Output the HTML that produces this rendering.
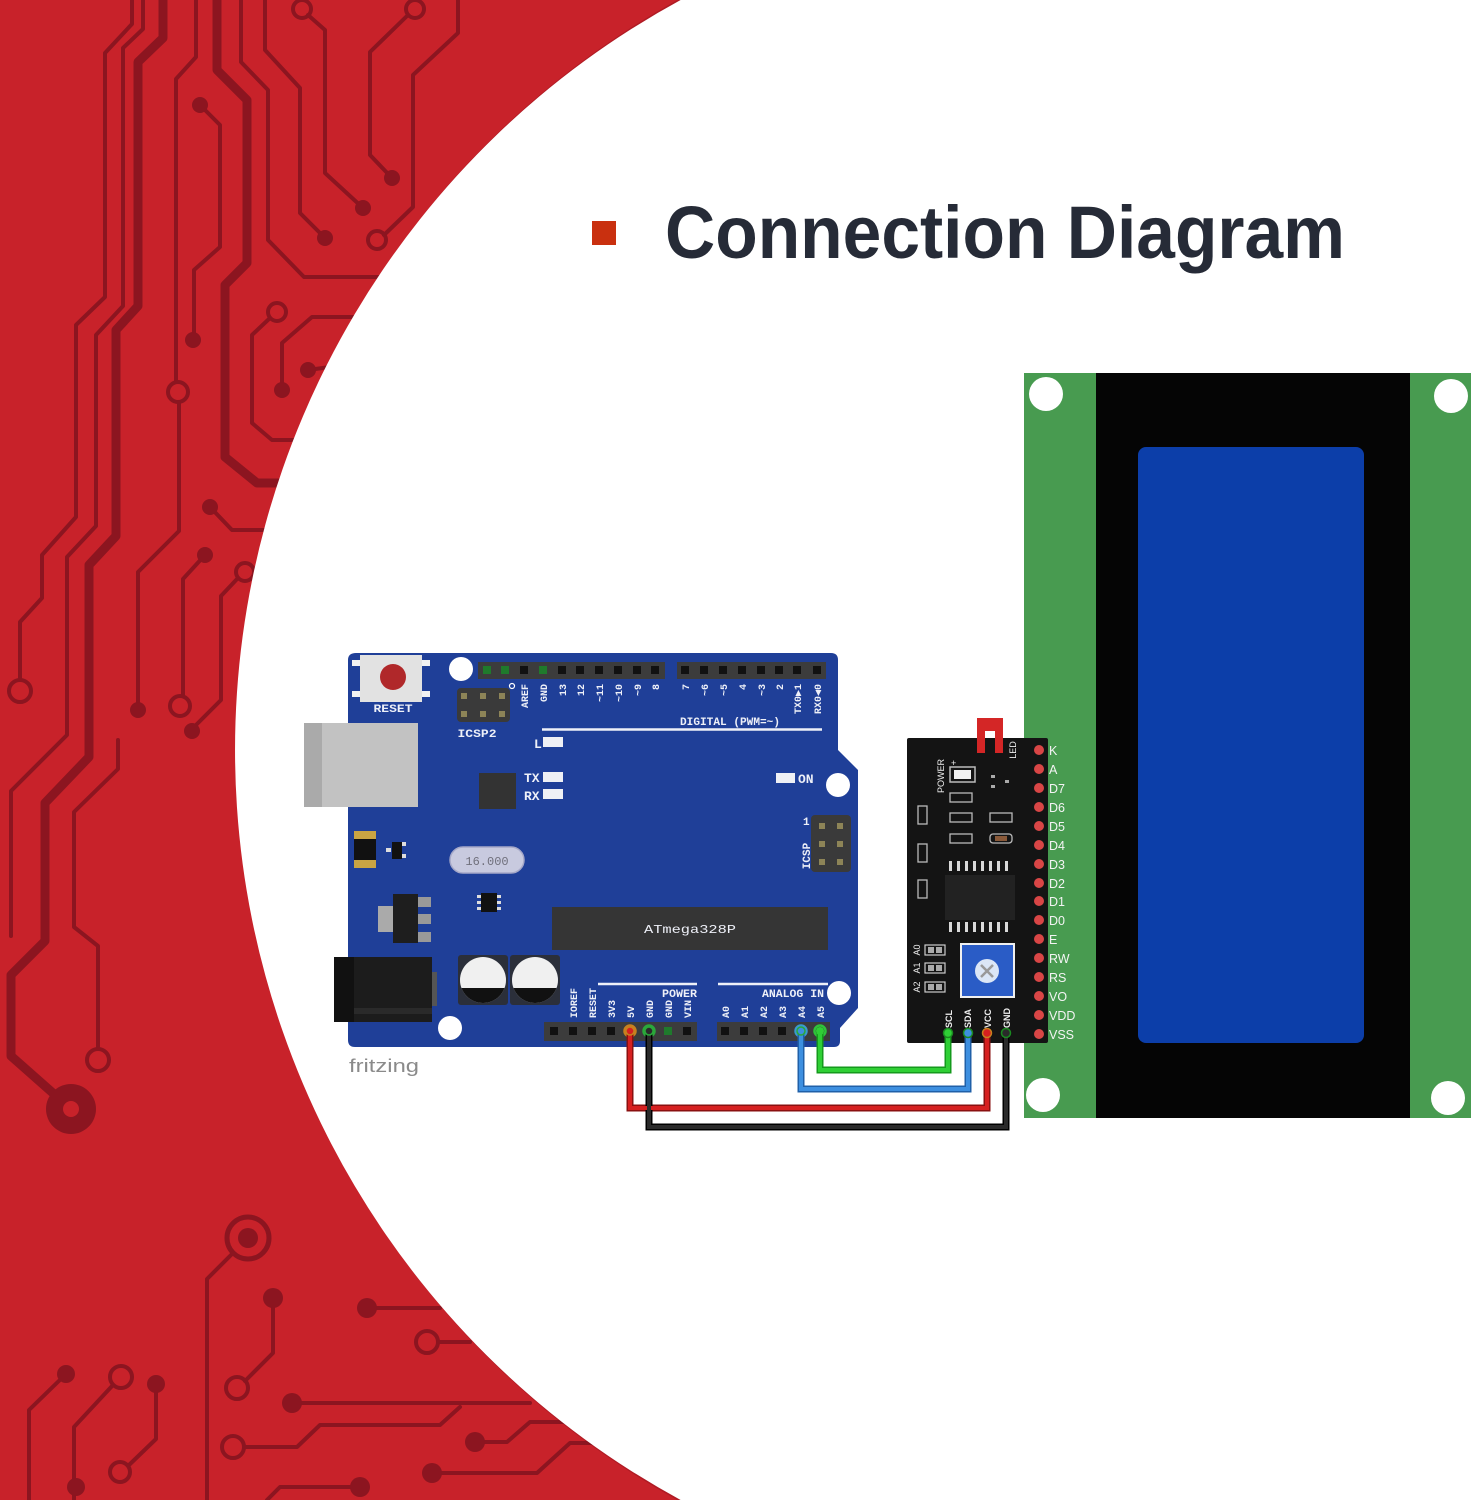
<!DOCTYPE html>
<html><head><meta charset="utf-8">
<style>
html,body{margin:0;padding:0;background:#fff;width:1475px;height:1500px;overflow:hidden;}
svg{display:block;}
.m{font-family:"Liberation Mono",monospace;font-weight:bold;fill:#eef0f8;}
.s{font-family:"Liberation Sans",sans-serif;}
</style></head>
<body>
<svg width="1475" height="1500" viewBox="0 0 1475 1500" xmlns="http://www.w3.org/2000/svg">
<defs>
<clipPath id="c1"><circle cx="483" cy="980" r="23"/></clipPath>
<clipPath id="c2"><circle cx="535" cy="980" r="23"/></clipPath>
</defs>
<rect width="1475" height="1500" fill="#c8222a"/>
<!-- traces -->
<g stroke="#8c1520" stroke-width="4" fill="none" stroke-linejoin="round" stroke-linecap="round">
<path d="M132,0 L132,24 L105,53 L105,297 L76,325 L76,517 L42,555 L42,598 L20,622 L20,679"/>
<circle cx="20" cy="691" r="11"/>
<path d="M143,0 L143,29 L123,48 L123,306 L96,335 L96,526 L67,557 L67,735 L11,791 L11,936"/>
<path d="M196,0 L196,57 L176,79 L176,382"/>
<circle cx="178" cy="392" r="10"/>
<path d="M179,402 L179,531 L138,572 L138,705"/>
<path d="M241,0 L241,62 L268,90 L268,240 L304,277 L380,277"/>
<path d="M265,0 L265,50 L300,88 L300,213 L325,238"/>
<circle cx="302" cy="9" r="9"/>
<path d="M308,15 L325,30 L325,173 L363,208"/>
<circle cx="415" cy="9" r="9"/>
<path d="M408,15 L370,52 L370,155 L392,178"/>
<path d="M458,0 L458,33 L413,75 L413,207 L384,235"/>
<circle cx="377" cy="240" r="9"/>
<path d="M200,105 L220,125 L220,247 L194,270 L194,335"/>
<circle cx="277" cy="312" r="9"/>
<path d="M270,318 L252,335 L252,423 L272,440 L300,440"/>
<path d="M282,390 L282,343 L312,317 L360,317"/>
<path d="M308,370 L330,367"/>
<path d="M210,507 L232,530 L280,530"/>
<path d="M205,555 L183,579 L183,696"/>
<circle cx="180" cy="706" r="10"/>
<circle cx="245" cy="572" r="9"/>
<path d="M238,578 L221,596 L221,700 L192,729"/>
<path d="M118,740 L118,769 L74,812 L74,927 L98,946 L98,1048"/>
<circle cx="98" cy="1060" r="11"/>
<!-- bottom -->
<circle cx="248" cy="1238" r="21" stroke-width="5"/>
<path d="M233,1253 L207,1279 L207,1500"/>
<path d="M273,1298 L273,1353 L245,1381"/>
<circle cx="237" cy="1388" r="11"/>
<path d="M367,1308 L440,1308"/>
<circle cx="427" cy="1342" r="11"/>
<path d="M438,1342 L470,1342"/>
<path d="M292,1403 L530,1403"/>
<circle cx="233" cy="1447" r="11"/>
<path d="M244,1447 L297,1447 L320,1425 L440,1425 L460,1407"/>
<path d="M475,1442 L507,1442 L530,1422 L570,1422"/>
<path d="M432,1473 L537,1473 L570,1443 L610,1443"/>
<path d="M360,1487 L280,1487 L267,1500"/>
<path d="M66,1374 L29,1410 L29,1500"/>
<circle cx="121" cy="1377" r="11"/>
<path d="M113,1385 L74,1427 L74,1500"/>
<path d="M156,1384 L156,1439 L129,1465"/>
<circle cx="120" cy="1472" r="10"/>
</g>
<g stroke="#8c1520" stroke-width="9" fill="none" stroke-linejoin="round">
<path d="M217,0 L217,70 L247,100 L247,263 L225,285 L225,457 L257,483 L290,483"/>
<path d="M163,0 L163,38 L138,62 L138,306 L116,330 L116,536 L89,565 L89,757 L45,803 L45,941 L11,975 L11,1056 L54,1094"/>
</g>
<g fill="#8c1520">
<circle cx="71" cy="1109" r="25"/>
<circle cx="325" cy="238" r="8"/><circle cx="363" cy="208" r="8"/><circle cx="392" cy="178" r="8"/>
<circle cx="200" cy="105" r="8"/><circle cx="193" cy="340" r="8"/><circle cx="282" cy="390" r="8"/>
<circle cx="308" cy="370" r="8"/><circle cx="210" cy="507" r="8"/><circle cx="205" cy="555" r="8"/>
<circle cx="192" cy="731" r="8"/><circle cx="138" cy="710" r="8"/>
<circle cx="248" cy="1238" r="10"/><circle cx="273" cy="1298" r="10"/><circle cx="367" cy="1308" r="10"/>
<circle cx="292" cy="1403" r="10"/><circle cx="475" cy="1442" r="10"/><circle cx="432" cy="1473" r="10"/>
<circle cx="360" cy="1487" r="10"/><circle cx="66" cy="1374" r="9"/><circle cx="156" cy="1384" r="9"/>
<circle cx="76" cy="1487" r="9"/>
</g>
<circle cx="71" cy="1109" r="8" fill="#c8222a"/>

<!-- white circle (clipped to frame) -->
<path d="M677.2,0 A858,858 0 0 0 677.2,1500 L1475,1500 L1475,0 Z" fill="#7a0e16" opacity="0.3"/>
<path d="M680.6,0 A854,854 0 0 0 680.6,1500 L1475,1500 L1475,0 Z" fill="#ffffff"/>

<!-- title -->
<rect x="592" y="221" width="24" height="24" fill="#c9300f"/>
<text x="665" y="258" class="s" font-size="74" font-weight="bold" fill="#262b37" textLength="680" lengthAdjust="spacingAndGlyphs">Connection Diagram</text>

<!-- ARDUINO -->
<rect x="304" y="723" width="114" height="84" fill="#bfbfbf"/>
<rect x="349" y="712" width="12" height="11" fill="#a6a6a6"/>
<rect x="349" y="807" width="12" height="10" fill="#a6a6a6"/>
<path d="M356,653 L831,653 Q838,653 838,660 L838,750 L858,770 L858,1008 L840,1028 L840,1041 Q840,1047 834,1047 L355,1047 Q348,1047 348,1040 L348,660 Q348,653 356,653 Z" fill="#1f3f98"/>
<rect x="322" y="723" width="96" height="84" fill="#c2c2c2"/>
<rect x="304" y="723" width="18" height="84" fill="#aaaaaa"/>
<!-- power jack -->
<rect x="334" y="957" width="98" height="65" fill="#1c1c1c"/>
<rect x="334" y="957" width="20" height="65" fill="#111"/>
<rect x="354" y="1008" width="78" height="6" fill="#2a2a2a"/>
<rect x="432" y="972" width="5" height="34" fill="#555"/>

<!-- reset button -->
<rect x="360" y="655" width="62" height="47" fill="#e2e2e2"/>
<rect x="352" y="660" width="8" height="6" fill="#f2f2f2"/><rect x="352" y="691" width="8" height="6" fill="#f2f2f2"/>
<rect x="422" y="660" width="8" height="6" fill="#f2f2f2"/><rect x="422" y="691" width="8" height="6" fill="#f2f2f2"/>
<circle cx="393" cy="677" r="13" fill="#b0282a"/>
<text x="393" y="712" class="m" font-size="11" text-anchor="middle" textLength="39" lengthAdjust="spacingAndGlyphs">RESET</text>
<circle cx="461" cy="669" r="12" fill="#fff"/>
<!-- ICSP2 -->
<rect x="457" y="688" width="53" height="34" rx="4" fill="#3a3a3a"/>
<g fill="#8d8457"><rect x="461" y="693" width="6" height="6"/><rect x="480" y="693" width="6" height="6"/><rect x="499" y="693" width="6" height="6"/>
<rect x="461" y="711" width="6" height="6"/><rect x="480" y="711" width="6" height="6"/><rect x="499" y="711" width="6" height="6"/></g>
<circle cx="512" cy="686" r="2.5" fill="none" stroke="#fff" stroke-width="1.2"/>
<text x="477" y="737" class="m" font-size="11" text-anchor="middle" textLength="39" lengthAdjust="spacingAndGlyphs">ICSP2</text>

<!-- top headers -->
<rect x="478" y="662" width="187" height="17" fill="#3c3c3c"/>
<rect x="677" y="662" width="149" height="17" fill="#3c3c3c"/>
<g fill="#111">
<rect x="520" y="666" width="8" height="8"/>
<rect x="558" y="666" width="8" height="8"/><rect x="576" y="666" width="8" height="8"/><rect x="595" y="666" width="8" height="8"/>
<rect x="614" y="666" width="8" height="8"/><rect x="633" y="666" width="8" height="8"/><rect x="651" y="666" width="8" height="8"/>
<rect x="681" y="666" width="8" height="8"/><rect x="700" y="666" width="8" height="8"/><rect x="719" y="666" width="8" height="8"/>
<rect x="738" y="666" width="8" height="8"/><rect x="757" y="666" width="8" height="8"/><rect x="775" y="666" width="8" height="8"/>
<rect x="793" y="666" width="8" height="8"/><rect x="813" y="666" width="8" height="8"/>
</g>
<g fill="#1f7a2c"><rect x="483" y="666" width="8" height="8"/><rect x="501" y="666" width="8" height="8"/><rect x="539" y="666" width="8" height="8"/></g>
<g class="m" font-size="10" text-anchor="end">
<text transform="translate(528,684) rotate(-90)">AREF</text>
<text transform="translate(547,684) rotate(-90)">GND</text>
<text transform="translate(566,684) rotate(-90)">13</text>
<text transform="translate(584,684) rotate(-90)">12</text>
<text transform="translate(603,684) rotate(-90)">~11</text>
<text transform="translate(622,684) rotate(-90)">~10</text>
<text transform="translate(641,684) rotate(-90)">~9</text>
<text transform="translate(659,684) rotate(-90)">8</text>
<text transform="translate(689,684) rotate(-90)">7</text>
<text transform="translate(708,684) rotate(-90)">~6</text>
<text transform="translate(727,684) rotate(-90)">~5</text>
<text transform="translate(746,684) rotate(-90)">4</text>
<text transform="translate(765,684) rotate(-90)">~3</text>
<text transform="translate(783,684) rotate(-90)">2</text>
<text transform="translate(801,684) rotate(-90)">TX0▶1</text>
<text transform="translate(821,684) rotate(-90)">RX0◀0</text>
</g>
<text x="680" y="725" class="m" font-size="11" textLength="100" lengthAdjust="spacingAndGlyphs">DIGITAL (PWM=~)</text>
<line x1="542" y1="729.5" x2="822" y2="729.5" stroke="#eef0f8" stroke-width="2.5"/>
<!-- LEDs -->
<text x="534" y="748" class="m" font-size="13">L</text>
<rect x="543" y="737" width="20" height="10" fill="#eef0f5"/>
<text x="524" y="782" class="m" font-size="13">TX</text>
<rect x="543" y="772" width="20" height="10" fill="#eef0f5"/>
<text x="524" y="800" class="m" font-size="13">RX</text>
<rect x="543" y="789" width="20" height="10" fill="#eef0f5"/>
<rect x="479" y="773" width="37" height="36" fill="#333"/>
<rect x="776" y="773" width="19" height="10" fill="#eef0f5"/>
<text x="798" y="783" class="m" font-size="13">ON</text>
<circle cx="838" cy="785" r="12" fill="#fff"/>
<!-- ICSP right -->
<rect x="811" y="815" width="40" height="57" rx="4" fill="#3a3a3a"/>
<g fill="#8d8457"><rect x="819" y="823" width="6" height="6"/><rect x="837" y="823" width="6" height="6"/>
<rect x="819" y="841" width="6" height="6"/><rect x="837" y="841" width="6" height="6"/>
<rect x="819" y="859" width="6" height="6"/><rect x="837" y="859" width="6" height="6"/></g>
<text x="803" y="825" class="m" font-size="11">1</text>
<text transform="translate(810,856) rotate(-90)" class="m" font-size="11" text-anchor="middle">ICSP</text>
<!-- smd parts -->
<rect x="354" y="831" width="22" height="37" fill="#111"/>
<rect x="354" y="831" width="22" height="8" fill="#c9a443"/>
<rect x="354" y="860" width="22" height="8" fill="#c9a443"/>
<rect x="392" y="842" width="10" height="17" fill="#111"/>
<rect x="386" y="848" width="5" height="4" fill="#ddd"/><rect x="402" y="842" width="4" height="4" fill="#ddd"/><rect x="402" y="854" width="4" height="4" fill="#ddd"/>
<rect x="450" y="847" width="74" height="26" rx="13" fill="#c8cadf" stroke="#a5a8c8" stroke-width="1.5"/>
<text x="487" y="865" class="m" font-size="12" style="fill:#70707c;font-weight:normal" text-anchor="middle">16.000</text>
<rect x="481" y="893" width="16" height="19" fill="#111"/>
<g fill="#ddd"><rect x="477" y="895" width="4" height="3"/><rect x="477" y="901" width="4" height="3"/><rect x="477" y="907" width="4" height="3"/>
<rect x="497" y="895" width="4" height="3"/><rect x="497" y="901" width="4" height="3"/><rect x="497" y="907" width="4" height="3"/></g>
<!-- regulator -->
<rect x="378" y="906" width="15" height="26" fill="#aaa"/>
<rect x="393" y="894" width="25" height="49" fill="#1e1e1e"/>
<g fill="#999"><rect x="418" y="897" width="13" height="10"/><rect x="418" y="914" width="13" height="10"/><rect x="418" y="932" width="13" height="10"/></g>
<!-- ATmega -->
<rect x="552" y="907" width="276" height="43" fill="#353535"/>
<text x="690" y="933" class="m" font-size="12" style="font-weight:normal" text-anchor="middle" textLength="92" lengthAdjust="spacingAndGlyphs">ATmega328P</text>
<!-- capacitors -->
<rect x="458" y="955" width="50" height="50" rx="3" fill="#2b2f3a"/>
<rect x="510" y="955" width="50" height="50" rx="3" fill="#2b2f3a"/>
<circle cx="483" cy="980" r="23" fill="#f0f0f0"/>
<circle cx="535" cy="980" r="23" fill="#f0f0f0"/>
<rect x="455" y="988" width="60" height="20" fill="#111" clip-path="url(#c1)"/>
<rect x="507" y="988" width="60" height="20" fill="#111" clip-path="url(#c2)"/>
<circle cx="450" cy="1028" r="12" fill="#fff"/>
<circle cx="839" cy="993" r="12" fill="#fff"/>
<!-- bottom headers -->
<line x1="598" y1="984" x2="697" y2="984" stroke="#eef0f8" stroke-width="2.5"/>
<line x1="718" y1="984" x2="828" y2="984" stroke="#eef0f8" stroke-width="2.5"/>
<text x="662" y="997" class="m" font-size="11" textLength="35" lengthAdjust="spacingAndGlyphs">POWER</text>
<text x="762" y="997" class="m" font-size="11" textLength="62" lengthAdjust="spacingAndGlyphs">ANALOG IN</text>
<rect x="544" y="1022" width="153" height="19" fill="#3c3c3c"/>
<rect x="717" y="1022" width="113" height="19" fill="#3c3c3c"/>
<g fill="#111">
<rect x="550" y="1027" width="8" height="8"/><rect x="569" y="1027" width="8" height="8"/><rect x="588" y="1027" width="8" height="8"/>
<rect x="607" y="1027" width="8" height="8"/><rect x="683" y="1027" width="8" height="8"/>
<rect x="721" y="1027" width="8" height="8"/><rect x="740" y="1027" width="8" height="8"/><rect x="759" y="1027" width="8" height="8"/><rect x="778" y="1027" width="8" height="8"/>
</g>
<rect x="664" y="1027" width="8" height="8" fill="#1f7a2c"/>
<circle cx="630" cy="1031" r="5.5" fill="#333" stroke="#c8801e" stroke-width="2.5"/>
<circle cx="649" cy="1031" r="5.5" fill="#333" stroke="#2aa83a" stroke-width="2.5"/>
<circle cx="801" cy="1031" r="5.5" fill="#333" stroke="#3a9ad0" stroke-width="2.5"/>
<circle cx="820" cy="1031" r="5.5" fill="#333" stroke="#2ec43a" stroke-width="2.5"/>
<g class="m" font-size="10">
<text transform="translate(577,1018) rotate(-90)">IOREF</text>
<text transform="translate(596,1018) rotate(-90)">RESET</text>
<text transform="translate(615,1018) rotate(-90)">3V3</text>
<text transform="translate(634,1018) rotate(-90)">5V</text>
<text transform="translate(653,1018) rotate(-90)">GND</text>
<text transform="translate(672,1018) rotate(-90)">GND</text>
<text transform="translate(691,1018) rotate(-90)">VIN</text>
<text transform="translate(729,1018) rotate(-90)">A0</text>
<text transform="translate(748,1018) rotate(-90)">A1</text>
<text transform="translate(767,1018) rotate(-90)">A2</text>
<text transform="translate(786,1018) rotate(-90)">A3</text>
<text transform="translate(805,1018) rotate(-90)">A4</text>
<text transform="translate(824,1018) rotate(-90)">A5</text>
</g>
<text x="349" y="1072" class="s" font-size="18" fill="#8a8a8a" textLength="70" lengthAdjust="spacingAndGlyphs">fritzing</text>

<!-- LCD -->
<rect x="1024" y="373" width="447" height="745" fill="#489b50"/>
<rect x="1096" y="373" width="314" height="745" fill="#050505"/>
<rect x="1138" y="447" width="226" height="596" rx="8" fill="#0c3ea9"/>
<circle cx="1046" cy="394" r="17" fill="#fff"/>
<circle cx="1451" cy="396" r="17" fill="#fff"/>
<circle cx="1043" cy="1095" r="17" fill="#fff"/>
<circle cx="1448" cy="1098" r="17" fill="#fff"/>

<!-- I2C module -->
<rect x="907" y="738" width="141" height="305" rx="2" fill="#141414"/>
<path d="M977,718 L1003,718 L1003,753 L995,753 L995,731 L985,731 L985,753 L977,753 Z" fill="#d42626"/>
<text transform="translate(1016,750) rotate(-90)" class="s" font-size="9" fill="#eee" text-anchor="middle">LED</text>
<text transform="translate(944,776) rotate(-90)" class="s" font-size="9" fill="#eee" text-anchor="middle">POWER</text>
<text x="951" y="766" class="s" font-size="9" fill="#eee">+</text>
<rect x="950" y="767" width="25" height="15" fill="none" stroke="#bbb" stroke-width="1.5"/>
<rect x="954" y="770" width="17" height="9" fill="#f2f2f2"/>
<g fill="#aaa"><rect x="991" y="775" width="4" height="3"/><rect x="991" y="785" width="4" height="3"/><rect x="1005" y="780" width="4" height="3"/></g>
<g fill="none" stroke="#bbb" stroke-width="1.3">
<rect x="950" y="793" width="22" height="9"/><rect x="950" y="813" width="22" height="9"/><rect x="950" y="834" width="22" height="9"/>
<rect x="990" y="813" width="22" height="9"/><rect x="990" y="834" width="22" height="9" rx="3"/>
<rect x="918" y="806" width="9" height="18"/><rect x="918" y="844" width="9" height="18"/><rect x="918" y="880" width="9" height="18"/>
</g>
<rect x="995" y="836" width="12" height="5" fill="#8a5a3a"/>
<g fill="#d8d8d8">
<rect x="949" y="861" width="3" height="10"/><rect x="957" y="861" width="3" height="10"/><rect x="965" y="861" width="3" height="10"/><rect x="973" y="861" width="3" height="10"/>
<rect x="981" y="861" width="3" height="10"/><rect x="989" y="861" width="3" height="10"/><rect x="997" y="861" width="3" height="10"/><rect x="1005" y="861" width="3" height="10"/>
<rect x="949" y="922" width="3" height="10"/><rect x="957" y="922" width="3" height="10"/><rect x="965" y="922" width="3" height="10"/><rect x="973" y="922" width="3" height="10"/>
<rect x="981" y="922" width="3" height="10"/><rect x="989" y="922" width="3" height="10"/><rect x="997" y="922" width="3" height="10"/><rect x="1005" y="922" width="3" height="10"/>
</g>
<rect x="945" y="875" width="70" height="45" fill="#222"/>
<rect x="960" y="943" width="55" height="55" fill="#f0f0f0"/>
<rect x="962" y="945" width="51" height="51" fill="#2a5cc6"/>
<circle cx="987" cy="971" r="12" fill="#dbe6f6"/>
<path d="M981,965 L993,977 M993,965 L981,977" stroke="#999" stroke-width="2.5"/>
<g fill="none" stroke="#ccc" stroke-width="1.2">
<rect x="925" y="945" width="20" height="10"/><rect x="925" y="963" width="20" height="10"/><rect x="925" y="982" width="20" height="10"/></g>
<g fill="#aaa"><rect x="928" y="947" width="6" height="6"/><rect x="936" y="947" width="6" height="6"/>
<rect x="928" y="965" width="6" height="6"/><rect x="936" y="965" width="6" height="6"/>
<rect x="928" y="984" width="6" height="6"/><rect x="936" y="984" width="6" height="6"/></g>
<g class="s" font-size="9" fill="#eee" text-anchor="middle">
<text transform="translate(920,950) rotate(-90)">A0</text>
<text transform="translate(920,968) rotate(-90)">A1</text>
<text transform="translate(920,987) rotate(-90)">A2</text>
</g>
<g class="s" font-size="9" fill="#eee" font-weight="bold">
<text transform="translate(952,1028) rotate(-90)">SCL</text>
<text transform="translate(971,1028) rotate(-90)">SDA</text>
<text transform="translate(991,1028) rotate(-90)">VCC</text>
<text transform="translate(1010,1028) rotate(-90)">GND</text>
</g>
<g fill="#d94646">
<circle cx="1039" cy="750" r="5"/><circle cx="1039" cy="769" r="5"/><circle cx="1039" cy="788" r="5"/><circle cx="1039" cy="807" r="5"/>
<circle cx="1039" cy="826" r="5"/><circle cx="1039" cy="845" r="5"/><circle cx="1039" cy="864" r="5"/><circle cx="1039" cy="883" r="5"/>
<circle cx="1039" cy="901" r="5"/><circle cx="1039" cy="920" r="5"/><circle cx="1039" cy="939" r="5"/><circle cx="1039" cy="958" r="5"/>
<circle cx="1039" cy="977" r="5"/><circle cx="1039" cy="996" r="5"/><circle cx="1039" cy="1015" r="5"/><circle cx="1039" cy="1034" r="5"/>
</g>
<g class="s" font-size="12.5" fill="#f4f4f4">
<text x="1049" y="755">K</text><text x="1049" y="774">A</text><text x="1049" y="793">D7</text><text x="1049" y="812">D6</text>
<text x="1049" y="831">D5</text><text x="1049" y="850">D4</text><text x="1049" y="869">D3</text><text x="1049" y="888">D2</text>
<text x="1049" y="906">D1</text><text x="1049" y="925">D0</text><text x="1049" y="944">E</text><text x="1049" y="963">RW</text>
<text x="1049" y="982">RS</text><text x="1049" y="1001">VO</text><text x="1049" y="1020">VDD</text><text x="1049" y="1039">VSS</text>
</g>

<!-- wires -->
<g fill="none" stroke-linejoin="miter" stroke-width="7">
<path d="M630,1031 L630,1108 L987,1108 L987,1033" stroke="#8a1010"/>
<path d="M649,1031 L649,1127 L1006,1127 L1006,1033" stroke="#000"/>
<path d="M801,1031 L801,1089 L968,1089 L968,1033" stroke="#2060a8"/>
<path d="M820,1031 L820,1070 L948,1070 L948,1033" stroke="#149a1c"/>
</g>
<g fill="none" stroke-linejoin="miter" stroke-width="4">
<path d="M630,1031 L630,1108 L987,1108 L987,1033" stroke="#d62020"/>
<path d="M649,1031 L649,1127 L1006,1127 L1006,1033" stroke="#2a2a2a"/>
<path d="M801,1031 L801,1089 L968,1089 L968,1033" stroke="#3d8fe0"/>
<path d="M820,1031 L820,1070 L948,1070 L948,1033" stroke="#2fcf35"/>
</g>
<circle cx="630" cy="1031" r="4" fill="#d62020" stroke="#c8801e" stroke-width="1.5"/>
<circle cx="649" cy="1031" r="4" fill="#2a2a2a" stroke="#2aa83a" stroke-width="1.5"/>
<circle cx="801" cy="1031" r="4" fill="#3d8fe0" stroke="#2aa83a" stroke-width="1.5"/>
<circle cx="820" cy="1031" r="4" fill="#2fcf35"/>
<circle cx="948" cy="1033" r="4.5" fill="#2fcf35" stroke="#1a8a20" stroke-width="1.5"/>
<circle cx="968" cy="1033" r="4.5" fill="#3d8fe0" stroke="#1a8a20" stroke-width="1.5"/>
<circle cx="987" cy="1033" r="4.5" fill="#d62020" stroke="#c8801e" stroke-width="1.5"/>
<circle cx="1006" cy="1033" r="4.5" fill="#2a2a2a" stroke="#1a8a20" stroke-width="1.5"/>
</svg>
</body></html>
